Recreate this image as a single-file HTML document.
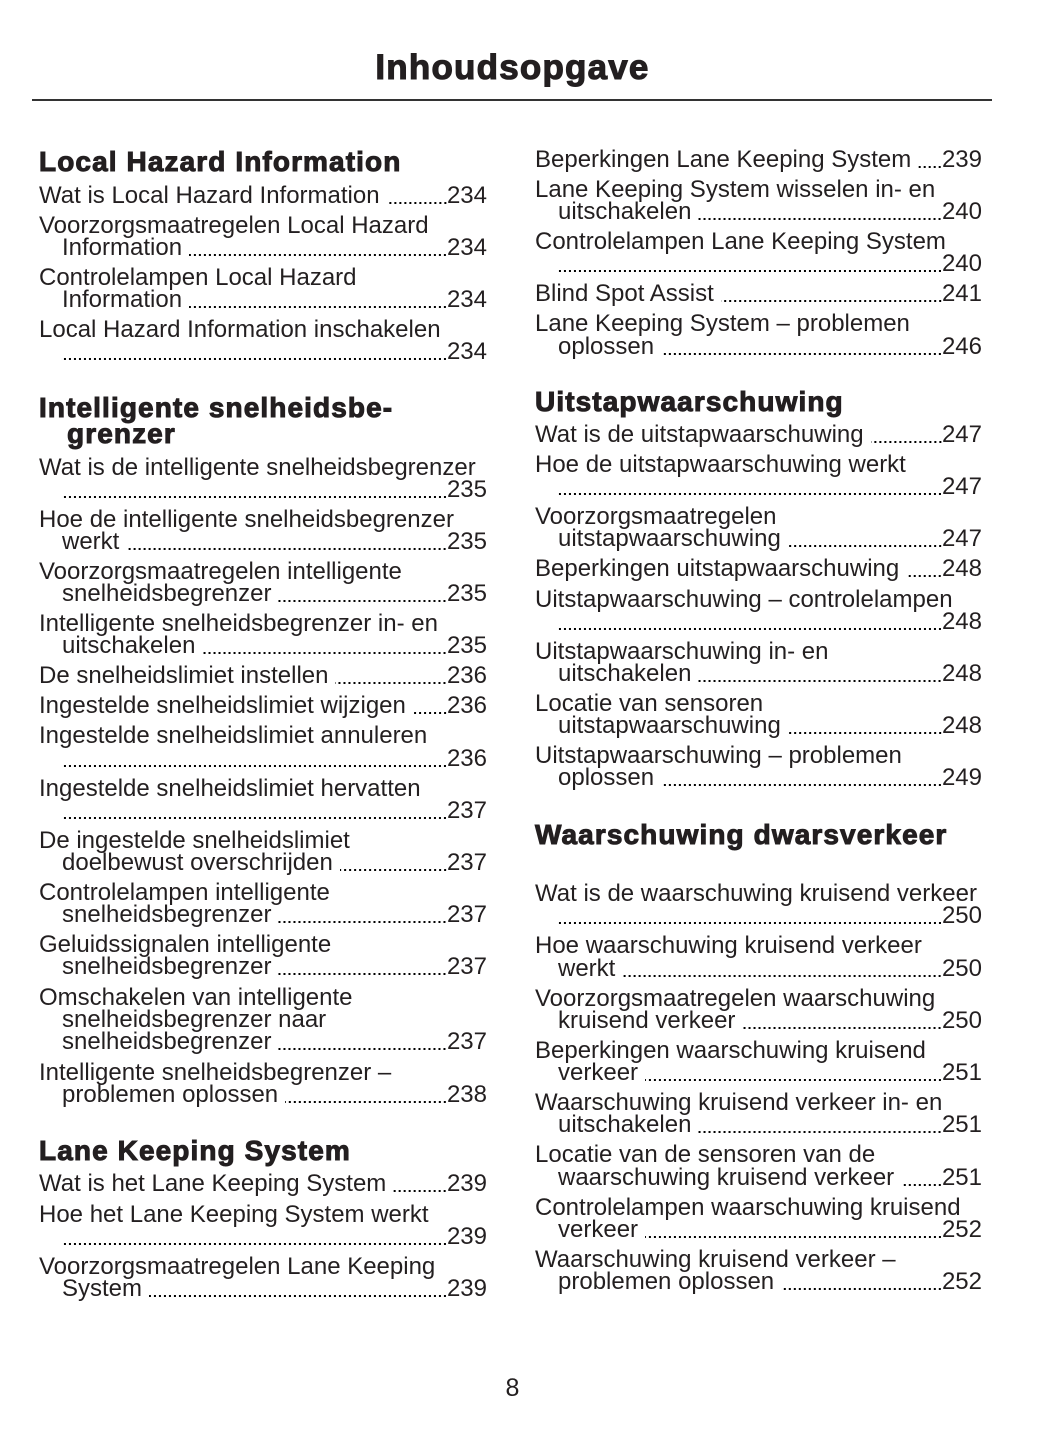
<!DOCTYPE html>
<html><head><meta charset="utf-8"><style>
html,body{margin:0;padding:0}
body{width:1055px;height:1448px;background:#fff;position:relative;overflow:hidden;color:#231f20;font-family:"Liberation Sans",sans-serif}
.t{position:absolute;font-size:24px;line-height:24px;white-space:nowrap}
.a{left:39px}.b{left:62px}.c{left:535px}.d{left:558px}
.L{right:568px;display:flex}.R{right:73px;display:flex}
.L span,.R span{flex:none}
.L i,.R i{flex:1 1 auto;min-width:0;margin-left:7px;height:24px;background-image:linear-gradient(to right,#000 2px,transparent 2px);background-size:5px 2.3px;background-repeat:repeat-x;background-position:right -2px top 18px}
.L i.z,.R i.z{margin-left:0}
.h{position:absolute;font-size:28px;line-height:28px;font-weight:bold;letter-spacing:1.1px;white-space:nowrap;-webkit-text-stroke:1px #231f20}
.title{position:absolute;left:0;width:1025px;text-align:center;top:50px;font-size:35px;line-height:35px;font-weight:bold;letter-spacing:1.2px;-webkit-text-stroke:1.1px #231f20}
.rule{position:absolute;left:32px;width:960px;top:99px;height:1.5px;background:#333}
.pn{position:absolute;left:0;width:1025px;text-align:center;top:1376px;font-size:25px;line-height:25px}
</style></head><body>
<div class="title">Inhoudsopgave</div>
<div class="rule"></div>

<!-- LEFT COLUMN -->
<div class="h" style="left:39px;top:148px">Local Hazard Information</div>
<div class="t a L" style="top:184px"><span>Wat is Local Hazard Information</span><i></i><span>234</span></div>
<div class="t a" style="top:214px">Voorzorgsmaatregelen Local Hazard</div>
<div class="t b L" style="top:236px"><span>Information</span><i></i><span>234</span></div>
<div class="t a" style="top:266px">Controlelampen Local Hazard</div>
<div class="t b L" style="top:288px"><span>Information</span><i></i><span>234</span></div>
<div class="t a" style="top:318px">Local Hazard Information inschakelen</div>
<div class="t b L" style="top:340px"><i class="z"></i><span>234</span></div>

<div class="h" style="left:39px;top:394px">Intelligente snelheidsbe-</div>
<div class="h" style="left:67px;top:420px">grenzer</div>
<div class="t a" style="top:456px">Wat is de intelligente snelheidsbegrenzer</div>
<div class="t b L" style="top:478px"><i class="z"></i><span>235</span></div>
<div class="t a" style="top:508px">Hoe de intelligente snelheidsbegrenzer</div>
<div class="t b L" style="top:530px"><span>werkt</span><i></i><span>235</span></div>
<div class="t a" style="top:560px">Voorzorgsmaatregelen intelligente</div>
<div class="t b L" style="top:582px"><span>snelheidsbegrenzer</span><i></i><span>235</span></div>
<div class="t a" style="top:612px">Intelligente snelheidsbegrenzer in- en</div>
<div class="t b L" style="top:634px"><span>uitschakelen</span><i></i><span>235</span></div>
<div class="t a L" style="top:664px"><span>De snelheidslimiet instellen</span><i></i><span>236</span></div>
<div class="t a L" style="top:694px"><span>Ingestelde snelheidslimiet wijzigen</span><i></i><span>236</span></div>
<div class="t a" style="top:724px">Ingestelde snelheidslimiet annuleren</div>
<div class="t b L" style="top:747px"><i class="z"></i><span>236</span></div>
<div class="t a" style="top:777px">Ingestelde snelheidslimiet hervatten</div>
<div class="t b L" style="top:799px"><i class="z"></i><span>237</span></div>
<div class="t a" style="top:829px">De ingestelde snelheidslimiet</div>
<div class="t b L" style="top:851px"><span>doelbewust overschrijden</span><i></i><span>237</span></div>
<div class="t a" style="top:881px">Controlelampen intelligente</div>
<div class="t b L" style="top:903px"><span>snelheidsbegrenzer</span><i></i><span>237</span></div>
<div class="t a" style="top:933px">Geluidssignalen intelligente</div>
<div class="t b L" style="top:955px"><span>snelheidsbegrenzer</span><i></i><span>237</span></div>
<div class="t a" style="top:986px">Omschakelen van intelligente</div>
<div class="t b" style="top:1008px">snelheidsbegrenzer naar</div>
<div class="t b L" style="top:1030px"><span>snelheidsbegrenzer</span><i></i><span>237</span></div>
<div class="t a" style="top:1061px">Intelligente snelheidsbegrenzer –</div>
<div class="t b L" style="top:1083px"><span>problemen oplossen</span><i></i><span>238</span></div>

<div class="h" style="left:39px;top:1137px">Lane Keeping System</div>
<div class="t a L" style="top:1172px"><span>Wat is het Lane Keeping System</span><i></i><span>239</span></div>
<div class="t a" style="top:1203px">Hoe het Lane Keeping System werkt</div>
<div class="t b L" style="top:1225px"><i class="z"></i><span>239</span></div>
<div class="t a" style="top:1255px">Voorzorgsmaatregelen Lane Keeping</div>
<div class="t b L" style="top:1277px"><span>System</span><i></i><span>239</span></div>

<!-- RIGHT COLUMN -->
<div class="t c R" style="top:148px"><span>Beperkingen Lane Keeping System</span><i></i><span>239</span></div>
<div class="t c" style="top:178px">Lane Keeping System wisselen in- en</div>
<div class="t d R" style="top:200px"><span>uitschakelen</span><i></i><span>240</span></div>
<div class="t c" style="top:230px">Controlelampen Lane Keeping System</div>
<div class="t d R" style="top:252px"><i class="z"></i><span>240</span></div>
<div class="t c R" style="top:282px"><span>Blind Spot Assist</span><i></i><span>241</span></div>
<div class="t c" style="top:312px">Lane Keeping System – problemen</div>
<div class="t d R" style="top:335px"><span>oplossen</span><i></i><span>246</span></div>

<div class="h" style="left:535px;top:388px">Uitstapwaarschuwing</div>
<div class="t c R" style="top:423px"><span>Wat is de uitstapwaarschuwing</span><i></i><span>247</span></div>
<div class="t c" style="top:453px">Hoe de uitstapwaarschuwing werkt</div>
<div class="t d R" style="top:475px"><i class="z"></i><span>247</span></div>
<div class="t c" style="top:505px">Voorzorgsmaatregelen</div>
<div class="t d R" style="top:527px"><span>uitstapwaarschuwing</span><i></i><span>247</span></div>
<div class="t c R" style="top:557px"><span>Beperkingen uitstapwaarschuwing</span><i></i><span>248</span></div>
<div class="t c" style="top:588px">Uitstapwaarschuwing – controlelampen</div>
<div class="t d R" style="top:610px"><i class="z"></i><span>248</span></div>
<div class="t c" style="top:640px">Uitstapwaarschuwing in- en</div>
<div class="t d R" style="top:662px"><span>uitschakelen</span><i></i><span>248</span></div>
<div class="t c" style="top:692px">Locatie van sensoren</div>
<div class="t d R" style="top:714px"><span>uitstapwaarschuwing</span><i></i><span>248</span></div>
<div class="t c" style="top:744px">Uitstapwaarschuwing – problemen</div>
<div class="t d R" style="top:766px"><span>oplossen</span><i></i><span>249</span></div>

<div class="h" style="left:535px;top:821px">Waarschuwing dwarsverkeer</div>
<div class="t c" style="top:882px">Wat is de waarschuwing kruisend verkeer</div>
<div class="t d R" style="top:904px"><i class="z"></i><span>250</span></div>
<div class="t c" style="top:934px">Hoe waarschuwing kruisend verkeer</div>
<div class="t d R" style="top:957px"><span>werkt</span><i></i><span>250</span></div>
<div class="t c" style="top:987px">Voorzorgsmaatregelen waarschuwing</div>
<div class="t d R" style="top:1009px"><span>kruisend verkeer</span><i></i><span>250</span></div>
<div class="t c" style="top:1039px">Beperkingen waarschuwing kruisend</div>
<div class="t d R" style="top:1061px"><span>verkeer</span><i></i><span>251</span></div>
<div class="t c" style="top:1091px">Waarschuwing kruisend verkeer in- en</div>
<div class="t d R" style="top:1113px"><span>uitschakelen</span><i></i><span>251</span></div>
<div class="t c" style="top:1143px">Locatie van de sensoren van de</div>
<div class="t d R" style="top:1166px"><span>waarschuwing kruisend verkeer</span><i></i><span>251</span></div>
<div class="t c" style="top:1196px">Controlelampen waarschuwing kruisend</div>
<div class="t d R" style="top:1218px"><span>verkeer</span><i></i><span>252</span></div>
<div class="t c" style="top:1248px">Waarschuwing kruisend verkeer –</div>
<div class="t d R" style="top:1270px"><span>problemen oplossen</span><i></i><span>252</span></div>

<div class="pn">8</div>
</body></html>
